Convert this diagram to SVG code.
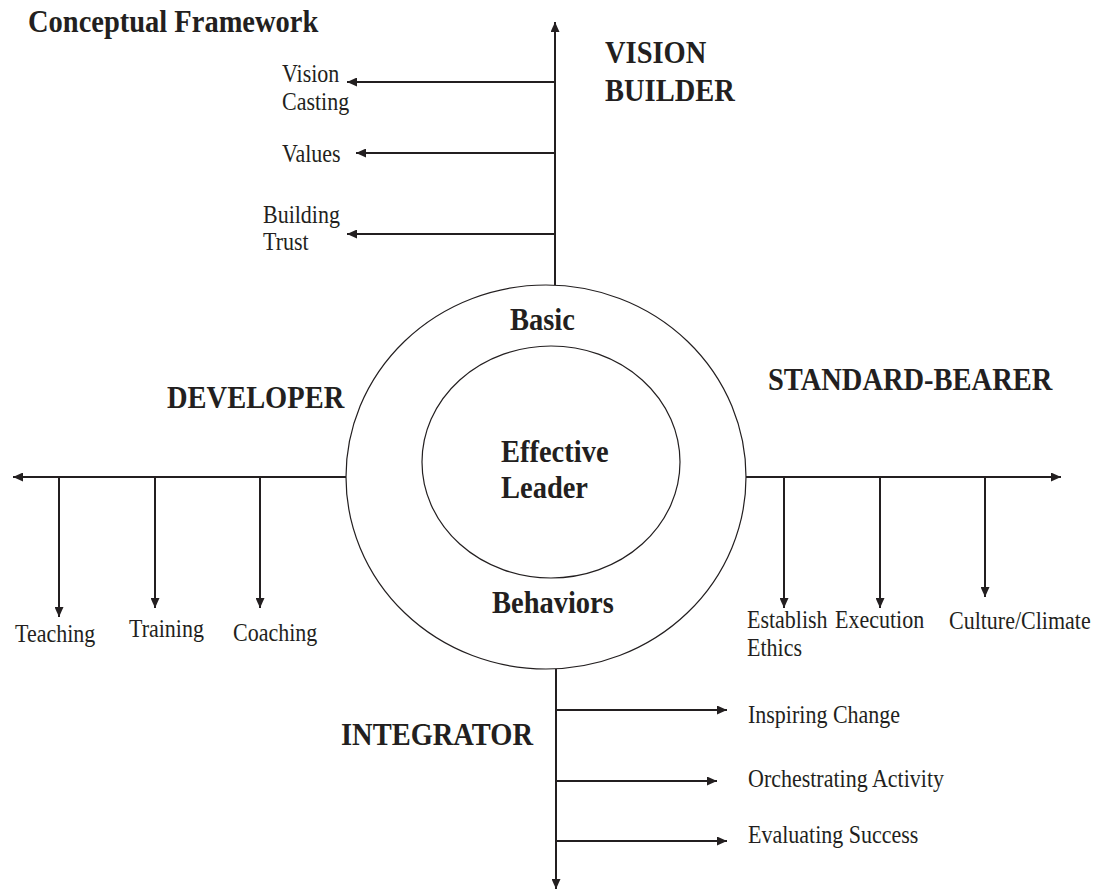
<svg xmlns="http://www.w3.org/2000/svg" width="1096" height="890" viewBox="0 0 1096 890">
  <style>
    .bold { font-family: "Liberation Serif", "Times New Roman", serif; font-weight: bold; font-size: 28.5px; fill: #231f20; }
    .reg { font-family: "Liberation Serif", "Times New Roman", serif; font-size: 22px; fill: #231f20; }
    .ax { stroke: #231f20; stroke-width: 2; fill: none; marker-end: url(#arrow); }
    .ring { stroke: #231f20; stroke-width: 1.2; fill: none; }
  </style>
  <defs>
    <marker id="arrow" markerUnits="userSpaceOnUse" markerWidth="11" markerHeight="9" refX="10" refY="4.5" orient="auto">
      <path d="M0,0 L10,4.5 L0,9 z" fill="#231f20"/>
    </marker>
  </defs>
  <rect width="1096" height="890" fill="#ffffff"/>

  <!-- all lettering is set slightly tall: scale(1 1.1) about each baseline -->
  <text class="bold" transform="translate(28 32) scale(1 1.1)">Conceptual Framework</text>

  <!-- centre: two nested rings -->
  <g id="core">
    <ellipse class="ring" cx="546" cy="477" rx="200" ry="192"/>
    <ellipse class="ring" cx="551" cy="462" rx="129" ry="116"/>
    <text class="bold" transform="translate(510 330) scale(1 1.1)">Basic</text>
    <text class="bold" transform="translate(501 462) scale(1 1.1)">Effective</text>
    <text class="bold" transform="translate(501 498) scale(1 1.1)">Leader</text>
    <text class="bold" transform="translate(492 613) scale(1 1.1)">Behaviors</text>
  </g>

  <g id="connectors">
    <!-- vision builder axis -->
    <line class="ax" x1="555" y1="285" x2="555" y2="22"/>
    <line class="ax" x1="555" y1="82" x2="347" y2="82"/>
    <line class="ax" x1="555" y1="153" x2="356" y2="153"/>
    <line class="ax" x1="555" y1="234" x2="347" y2="234"/>
    <!-- developer axis -->
    <line class="ax" x1="346" y1="477" x2="13" y2="477"/>
    <line class="ax" x1="59" y1="477" x2="59" y2="617"/>
    <line class="ax" x1="155" y1="477" x2="155" y2="608"/>
    <line class="ax" x1="260" y1="477" x2="260" y2="608"/>
    <!-- standard-bearer axis -->
    <line class="ax" x1="746" y1="477" x2="1061" y2="477"/>
    <line class="ax" x1="784" y1="477" x2="784" y2="608"/>
    <line class="ax" x1="880" y1="477" x2="880" y2="608"/>
    <line class="ax" x1="985" y1="477" x2="985" y2="597"/>
    <!-- integrator axis -->
    <line class="ax" x1="556" y1="669" x2="556" y2="889"/>
    <line class="ax" x1="556" y1="710" x2="727" y2="710"/>
    <line class="ax" x1="556" y1="781" x2="717" y2="781"/>
    <line class="ax" x1="556" y1="841" x2="727" y2="841"/>
  </g>

  <g id="vision-builder">
    <text class="bold" transform="translate(605 63) scale(1 1.1)">VISION</text>
    <text class="bold" transform="translate(605 101) scale(1 1.1)">BUILDER</text>
    <text class="reg" transform="translate(282 82) scale(1 1.1)">Vision</text>
    <text class="reg" transform="translate(282 110) scale(1 1.1)">Casting</text>
    <text class="reg" transform="translate(282 162) scale(1 1.1)">Values</text>
    <text class="reg" transform="translate(263 223) scale(1 1.1)">Building</text>
    <text class="reg" transform="translate(263 250) scale(1 1.1)">Trust</text>
  </g>

  <g id="developer">
    <text class="bold" transform="translate(167 408) scale(1 1.1)">DEVELOPER</text>
    <text class="reg" transform="translate(15 642) scale(1 1.1)">Teaching</text>
    <text class="reg" transform="translate(129 637) scale(1 1.1)">Training</text>
    <text class="reg" transform="translate(233 641) scale(1 1.1)">Coaching</text>
  </g>

  <g id="standard-bearer">
    <text class="bold" transform="translate(768 390) scale(1 1.1)">STANDARD-BEARER</text>
    <text class="reg" transform="translate(747 628) scale(1 1.1)">Establish</text>
    <text class="reg" transform="translate(747 656) scale(1 1.1)">Ethics</text>
    <text class="reg" transform="translate(835 628) scale(1 1.1)">Execution</text>
    <text class="reg" transform="translate(949 629) scale(1 1.1)">Culture/Climate</text>
  </g>

  <g id="integrator">
    <text class="bold" transform="translate(341 745) scale(1 1.1)">INTEGRATOR</text>
    <text class="reg" transform="translate(748 723) scale(1 1.1)">Inspiring Change</text>
    <text class="reg" transform="translate(748 787) scale(1 1.1)">Orchestrating Activity</text>
    <text class="reg" transform="translate(748 843) scale(1 1.1)">Evaluating Success</text>
  </g>
</svg>
